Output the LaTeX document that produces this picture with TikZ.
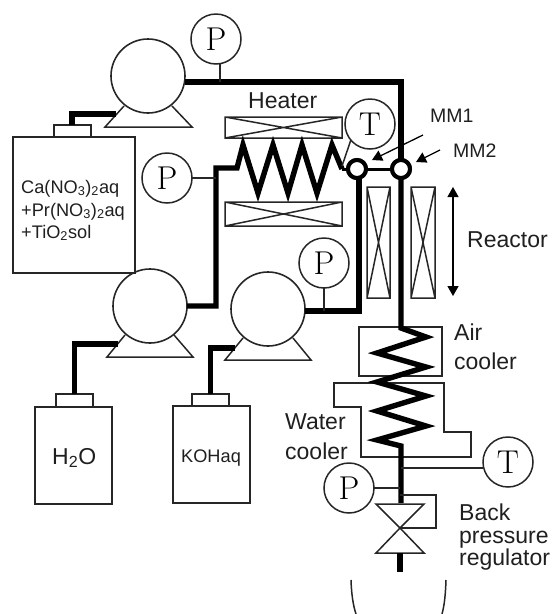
\documentclass[tikz,border=0pt]{standalone}
\usepackage{fontspec}
\newfontfamily\arialf{Liberation Sans}
\usetikzlibrary{arrows.meta}
\tikzset{
  thin line/.style={line width=1.5pt,draw=black!85},
  pipe/.style={line width=5.4pt,draw=black,line join=miter},
  midpipe/.style={line width=3pt,draw=black},
  gauge/.style={circle,draw=black!85,line width=1.5pt,minimum size=50pt,inner sep=0pt,outer sep=0pt,font=\fontsize{33}{33}\selectfont},
  pumpbody/.style={circle,draw=black!85,line width=1.6pt,minimum size=74pt,inner sep=0pt,outer sep=0pt},
  mixer/.style={circle,draw=black,line width=4pt,fill=white,minimum size=18pt,inner sep=0pt,outer sep=0pt},
  box/.style={rectangle,draw=black!85,line width=1.5pt,inner sep=0pt,outer sep=0pt},
  lab/.style={font=\arialf\fontsize{23}{23}\selectfont,text=black!88,inner sep=0pt,anchor=base west},
  smalllab/.style={font=\arialf\fontsize{18.2}{18.2}\selectfont,text=black!88,inner sep=0pt,anchor=base west},
  mmlab/.style={font=\arialf\fontsize{19.5}{19.5}\selectfont,text=black!88,inner sep=0pt,anchor=base west},
  pointer/.style={line width=1.3pt,draw=black,-{Triangle[length=10pt,width=11pt]}},
}
\newcommand{\crossbox}[5]{% name x1 y1 x2 y2
  \coordinate (#1a) at (#2,#3); \coordinate (#1b) at (#4,#5);
  \draw[thin line] (#1a) rectangle (#1b) (#1a) -- (#1b) (#2,#5) -- (#4,#3);}
\begin{document}
\begin{tikzpicture}[x=1pt,y=-1pt]
\useasboundingbox (0,0) rectangle (554,614);
% tanks
\node[box,minimum width=122pt,minimum height=136pt] (tankA) at (74,205) {};
\node[box,minimum width=37pt,minimum height=12pt,anchor=south] (neckA) at (72.5,137) {};
\node[box,minimum width=77pt,minimum height=97pt] (tankB) at (73.5,455.5) {};
\node[box,minimum width=37pt,minimum height=13pt,anchor=south] (neckB) at (74.5,407) {};
\node[box,minimum width=77pt,minimum height=97pt] (tankC) at (211.5,454.5) {};
\node[box,minimum width=37pt,minimum height=12pt,anchor=south] (neckC) at (210.5,406) {};
\node[smalllab] (tA1) at (21,193) {Ca(NO\textsubscript{3})\textsubscript{2}aq};
\node[smalllab] (tA2) at (21,216) {+Pr(NO\textsubscript{3})\textsubscript{2}aq};
\node[smalllab] (tA3) at (21,238) {+TiO\textsubscript{2}sol};
\node[lab] (tB) at (52,464) {H\textsubscript{2}O};
\node[smalllab] (tC) at (181,462) {KOHaq};
% pump bases
\draw[thin line] (124,106) -- (105,127) -- (192,127) -- (172,106);
\draw[thin line] (125,335) -- (107,357) -- (193,357) -- (174,335);
\draw[thin line] (243,338) -- (225,360) -- (311,360) -- (293,338);
% pumps
\node[pumpbody] (pumpA) at (148,76) {};
\node[pumpbody] (pumpB) at (150,306) {};
\node[pumpbody] (pumpC) at (268,309) {};
% helper points
\coordinate (aIn) at (116,114);
\coordinate (aOut) at (185,82);
\coordinate (topCorner) at (401,82);
\coordinate (bIn) at (118,344);
\coordinate (bCorner) at (216,306);
\coordinate (bUp) at (216,168);
\coordinate (cIn) at (235,348);
\coordinate (cCorner) at (359,311);
% heaters and reactor
\crossbox{hA}{225}{117}{342}{138}
\crossbox{hB}{225}{202}{342}{226}
\crossbox{rA}{367}{187}{390}{298}
\crossbox{rB}{411}{187}{435}{298}
% coolers
\node[box,minimum width=83pt,minimum height=49pt] (air) at (400.5,351.5) {};
\draw[thin line] (334,383) coordinate (w1) -- (444,383) -- (444,432) -- (471,432) -- (471,457) -- (361,457) -- (361,407) -- (334,407) -- cycle;
% mixers
\node[mixer] (mmA) at (357,169) {};
\node[mixer] (mmB) at (401,169) {};
% pipes
\draw[pipe] (neckA.north -| 72,0) |- (aIn);
\draw[pipe] (aOut) -- (topCorner) -- (mmB.north);
\draw[pipe] (neckB.north) |- (bIn);
\draw[pipe] (pumpB.east) -- (bCorner) -- (bUp) -- (237,168) -- (243,145) -- (258,193) -- (273,145) -- (288,193) -- (302,145) -- (317,193) -- (332,145) -- (342,169);
\draw[pipe,line width=3pt] (342,169) -- (mmA.west);
\draw[pipe] (neckC.north) |- (cIn);
\draw[pipe] (305,311) -- (cCorner) -- (mmA.south -| cCorner);
\draw[midpipe] (mmA) -- (mmB);
\node[mixer] at (mmA) {};
\node[mixer] at (mmB) {};
\draw[pipe] (mmB.south) -- (401,328) -- (426,337) -- (377,353) -- (426,367) -- (377,382) -- (426,396) -- (377,411) -- (426,426) -- (377,440) -- (401,446) -- (401,503) coordinate (vIn);
% gauges
\node[gauge] (gP1) at (216,39) {P};
\node[gauge] (gP3) at (167,178) {P};
\node[gauge] (gT1) at (370,124) {T};
\node[gauge] (gP4) at (324,263) {P};
\node[gauge] (gT2) at (508,462) {T};
\node[gauge] (gP2) at (349,488) {P};
\draw[thin line] (gP1.south -| 220,0) -- (220,82);
\draw[thin line] (gP3.east) -- (216,178);
\draw[thin line] (gT1.220) -- (342,166);
\draw[thin line] (gP4.south) -- (324,311);
\draw[thin line] (gT2.west |- 0,468) -- (401,468);
\draw[thin line] (gP2.east) -- (400,488);
% valve
\coordinate (vC) at (400,528);
\draw[thin line] (vC) -- (376,504) -- (424,504) -- cycle;
\draw[thin line] (vC) -- (376,553) -- (424,553) -- cycle;
\draw[thin line] (400,495) -- (436,495) -- (436,528) -- (vC);
\coordinate (vOut) at (400,553);
\coordinate (vEnd) at (400,572);
\draw[pipe] (vOut) -- (vEnd);
% receiver
\draw[thin line] (351,580) .. controls (351.5,594) and (353,605) .. (356,614);
\draw[thin line] (446,580) .. controls (445.5,594) and (444.5,605) .. (442,614);
% arrows
\coordinate (mm1a) at (423,135); \coordinate (mm1b) at (372,160);
\coordinate (mm2a) at (440,150); \coordinate (mm2b) at (416,162);
\draw[pointer] (mm1a) -- (mm1b);
\draw[pointer] (mm2a) -- (mm2b);
\coordinate (rTop) at (453,187); \coordinate (rBot) at (453,296);
\draw[line width=1.3pt,{Triangle[length=10pt,width=11pt]}-{Triangle[length=10pt,width=11pt]}] (rTop) -- (rBot);
% labels
\node[lab] (lHeater) at (248,108) {Heater};
\node[mmlab] (lMM1) at (430,122) {MM1};
\node[mmlab] (lMM2) at (453,157) {MM2};
\node[lab] (lReactor) at (467,247) {Reactor};
\node[lab] (lAir) at (454,340) {Air};
\node[lab] (lCool) at (454,369) {cooler};
\node[lab] (lWater) at (285,429) {Water};
\node[lab] (lCool2) at (285,459) {cooler};
\node[lab] (lBack) at (459,520) {Back};
\node[lab] (lPress) at (459,543) {pressure};
\node[lab] (lReg) at (459,565) {regulator};
\end{tikzpicture}
\end{document}
